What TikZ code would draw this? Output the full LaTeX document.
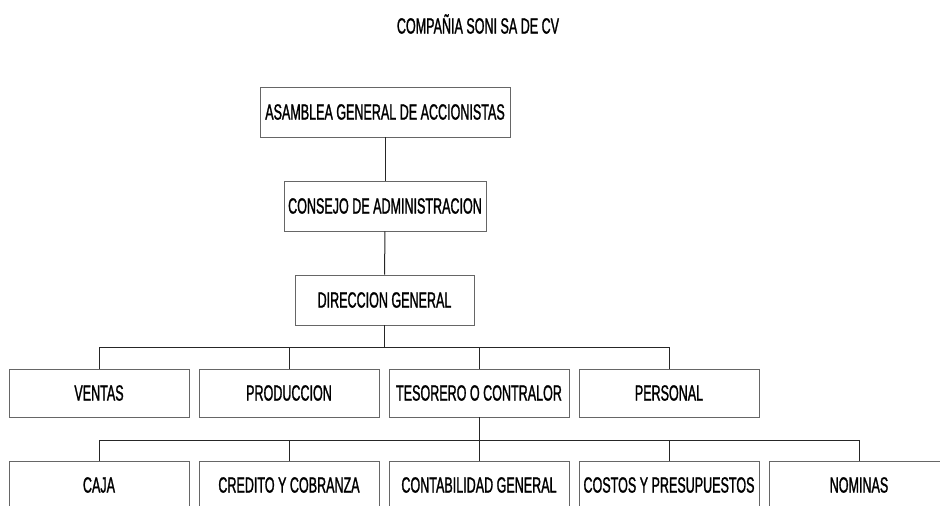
\documentclass[tikz,border=0pt]{standalone}
\usepackage{fontspec}
\setmainfont[FakeStretch=0.57,FakeBold=1.2]{Liberation Sans}
\usepackage{tikz}

\begin{document}
\begin{tikzpicture}[x=1pt,y=-1pt,
	every node/.style={font=\fontsize{22}{24}\selectfont},
	puesto/.style={draw=black!60,line width=0.8pt,inner sep=0pt,minimum height=50pt},
	area/.style={puesto,minimum width=180pt,minimum height=48pt},
	linea/.style={draw=black!85,line width=1pt}]
	\clip (0,0) rectangle (940,506);
	\node (titulo) at (478,24) {COMPAÑIA SONI SA DE CV};
	% niveles superiores
	\node[puesto,minimum width=250pt] (asa) at (385,112) {ASAMBLEA GENERAL DE ACCIONISTAS};
	\node[puesto,minimum width=202pt] (con) at (385,206) {CONSEJO DE ADMINISTRACION};
	\node[puesto,minimum width=179pt] (dir) at (384.5,300) {DIRECCION GENERAL};
	% areas
	\node[area] (ven) at (99,393) {VENTAS};
	\node[area] (pro) at (289,393) {PRODUCCION};
	\node[area] (tes) at (479,393) {TESORERO O CONTRALOR};
	\node[area] (per) at (669,393) {PERSONAL};
	% departamentos
	\node[area] (caj) at (99,485) {CAJA};
	\node[area] (cre) at (289,485) {CREDITO Y COBRANZA};
	\node[area] (cgl) at (479,485) {CONTABILIDAD GENERAL};
	\node[area] (cos) at (669,485) {COSTOS Y PRESUPUESTOS};
	\node[area] (nom) at (859,485) {NOMINAS};
	\coordinate (bus1) at (0,347);
	\coordinate (bus2) at (0,440);
	% conectores
	\draw[linea] (asa) -- (con);
	\draw[linea] (con) -- (dir);
	\draw[linea] (dir.south) -- (dir.south |- bus1);
	\draw[linea] (ven.north) |- (per.north |- bus1) -- (per.north);
	\draw[linea] (pro.north) -- (pro.north |- bus1);
	\draw[linea] (tes.north) -- (tes.north |- bus1);
	\draw[linea] (tes.south) -- (cgl.north);
	\draw[linea] (caj.north) |- (nom.north |- bus2) -- (nom.north);
	\draw[linea] (cre.north) -- (cre.north |- bus2);
	\draw[linea] (cos.north) -- (cos.north |- bus2);
\end{tikzpicture}
\end{document}
